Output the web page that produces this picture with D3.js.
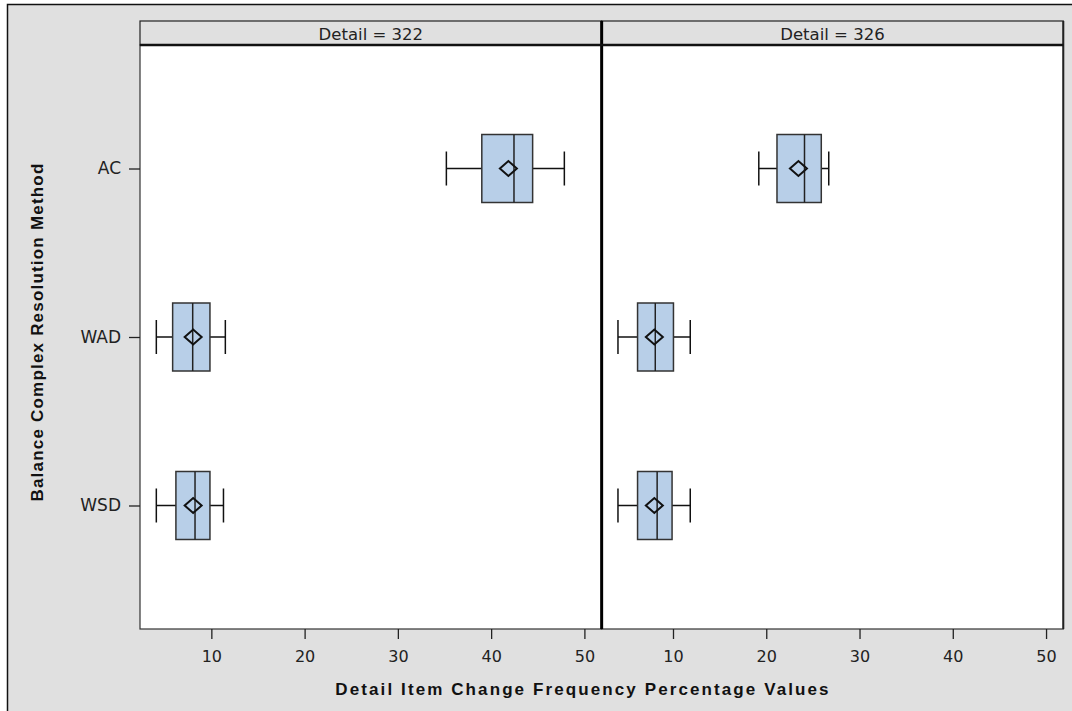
<!DOCTYPE html>
<html>
<head>
<meta charset="utf-8">
<script src="https://cdn.jsdelivr.net/npm/d3@7"></script>
<style>
  body { margin: 0; background: #fff; }
  text { font-family: 'DejaVu Sans', sans-serif; fill: #222; }
</style>
</head>
<body>
<div id="chart"></div>
<script>
// categories and panels
var categories = ['AC', 'WAD', 'WSD'];
var panels = ['322', '326'];
var xTicks = [10, 20, 30, 40, 50];

// box statistics per panel, in the order of categories
var low322 = [35.2, 4.1, 4.1];
var q1_322 = [39.0, 5.85, 6.2];
var median322 = [42.45, 8.0, 8.25];
var q3_322 = [44.45, 9.85, 9.85];
var high322 = [47.85, 11.5, 11.3];
var mean322 = [41.85, 8.05, 8.05];

var low326 = [19.2, 4.1, 4.1];
var q1_326 = [21.15, 6.2, 6.2];
var median326 = [24.1, 8.1, 8.3];
var q3_326 = [25.9, 10.05, 9.9];
var high326 = [26.7, 11.85, 11.85];
var mean326 = [23.45, 8.0, 8.0];

var stats = {
  '322': {low: low322, q1: q1_322, med: median322, q3: q3_322, high: high322, mean: mean322},
  '326': {low: low326, q1: q1_326, med: median326, q3: q3_326, high: high326, mean: mean326}
};

var width = 1072, height = 711;
var plotLeft = 140, plotRight = 1063.3, stripTop = 21, plotTop = 45, plotBottom = 629;
var panelW = (plotRight - plotLeft) / panels.length;

var svg = d3.select('#chart')
  .append('svg')
    .attr('width', width)
    .attr('height', height);

// outer grey frame
svg.append('rect')
  .attr('x', 7.5).attr('y', 4.5)
  .attr('width', width).attr('height', height)
  .attr('fill', '#e0e0e0')
  .attr('stroke', '#111').attr('stroke-width', 1.5);

var y = d3.scalePoint()
  .domain(categories)
  .range([plotTop, plotBottom])
  .padding(0.733);

panels.forEach(function(p, pi) {
  var x0 = plotLeft + pi * panelW;
  var x = d3.scaleLinear().domain([2.35, 51.85]).range([x0, x0 + panelW]);
  var s = stats[p];

  // header strip
  svg.append('rect')
    .attr('x', x0).attr('y', stripTop)
    .attr('width', panelW).attr('height', plotTop - stripTop)
    .attr('fill', '#e0e0e0')
    .attr('stroke', '#222').attr('stroke-width', 1.2);
  svg.append('text')
    .attr('x', x0 + panelW / 2).attr('y', 40)
    .attr('text-anchor', 'middle')
    .style('font-size', '16.5px')
    .text('Detail = ' + p);

  // plot area
  svg.append('rect')
    .attr('x', x0).attr('y', plotTop)
    .attr('width', panelW).attr('height', plotBottom - plotTop)
    .attr('fill', '#fff')
    .attr('stroke', '#333').attr('stroke-width', 1.2);

  // x axis
  var xa = svg.append('g')
    .attr('transform', 'translate(0,' + plotBottom + ')')
    .call(d3.axisBottom(x).tickValues(xTicks).tickSize(10).tickPadding(12).tickSizeOuter(0));
  xa.select('.domain').remove();
  xa.selectAll('line').attr('stroke', '#222').attr('stroke-width', 1.3);
  xa.selectAll('text').style('font-size', '16px').attr('fill', '#222')
    .style('font-family', "'DejaVu Sans', sans-serif");

  // boxes
  var g = svg.append('g');
  var idx = d3.range(categories.length);
  var bh = 34, ch = 17;

  g.selectAll('.whisker').data(idx).enter().append('line')
    .attr('x1', function(i) { return x(s.low[i]); })
    .attr('x2', function(i) { return x(s.high[i]); })
    .attr('y1', function(i) { return y(categories[i]); })
    .attr('y2', function(i) { return y(categories[i]); })
    .attr('stroke', '#111').attr('stroke-width', 1.5);

  ['low', 'high'].forEach(function(k) {
    g.selectAll('.cap' + k).data(idx).enter().append('line')
      .attr('x1', function(i) { return x(s[k][i]); })
      .attr('x2', function(i) { return x(s[k][i]); })
      .attr('y1', function(i) { return y(categories[i]) - ch; })
      .attr('y2', function(i) { return y(categories[i]) + ch; })
      .attr('stroke', '#111').attr('stroke-width', 1.5);
  });

  g.selectAll('.box').data(idx).enter().append('rect')
    .attr('x', function(i) { return x(s.q1[i]); })
    .attr('width', function(i) { return x(s.q3[i]) - x(s.q1[i]); })
    .attr('y', function(i) { return y(categories[i]) - bh; })
    .attr('height', bh * 2)
    .attr('fill', '#b8cfe8')
    .attr('stroke', '#333').attr('stroke-width', 1.5);

  g.selectAll('.median').data(idx).enter().append('line')
    .attr('x1', function(i) { return x(s.med[i]); })
    .attr('x2', function(i) { return x(s.med[i]); })
    .attr('y1', function(i) { return y(categories[i]) - bh; })
    .attr('y2', function(i) { return y(categories[i]) + bh; })
    .attr('stroke', '#222').attr('stroke-width', 1.5);

  // mean diamond
  g.selectAll('.mean').data(idx).enter().append('path')
    .attr('d', function(i) {
      var cx = x(s.mean[i]), cy = y(categories[i]);
      return 'M' + (cx - 8.5) + ',' + cy + 'L' + cx + ',' + (cy - 7.5) +
             'L' + (cx + 8.5) + ',' + cy + 'L' + cx + ',' + (cy + 7.5) + 'Z';
    })
    .attr('fill', 'none')
    .attr('stroke', '#111').attr('stroke-width', 2);
});

// separator and right edge
svg.append('line')
  .attr('x1', plotLeft + panelW).attr('x2', plotLeft + panelW)
  .attr('y1', stripTop).attr('y2', plotBottom)
  .attr('stroke', '#000').attr('stroke-width', 3);
svg.append('line')
  .attr('x1', plotRight).attr('x2', plotRight)
  .attr('y1', stripTop).attr('y2', plotBottom)
  .attr('stroke', '#222').attr('stroke-width', 2);
svg.append('line')
  .attr('x1', plotLeft).attr('x2', plotRight)
  .attr('y1', plotTop).attr('y2', plotTop)
  .attr('stroke', '#111').attr('stroke-width', 2.5);

// y axis
var ya = svg.append('g')
  .attr('transform', 'translate(' + plotLeft + ',0)')
  .call(d3.axisLeft(y).tickSize(11).tickPadding(8));
ya.select('.domain').remove();
ya.selectAll('line').attr('stroke', '#222').attr('stroke-width', 1.3);
ya.selectAll('text').style('font-size', '17px').attr('fill', '#222')
  .style('font-family', "'DejaVu Sans', sans-serif");

// axis titles
svg.append('text')
  .attr('x', 583).attr('y', 695)
  .attr('text-anchor', 'middle')
  .style('font-family', "'Liberation Sans', Arial, sans-serif")
  .style('font-weight', 'bold')
  .style('font-size', '17px')
  .style('letter-spacing', '2.1px')
  .style('fill', '#111')
  .text('Detail Item Change Frequency Percentage Values');

svg.append('text')
  .attr('transform', 'translate(43,332) rotate(-90)')
  .attr('text-anchor', 'middle')
  .style('font-family', "'Liberation Sans', Arial, sans-serif")
  .style('font-weight', 'bold')
  .style('font-size', '17px')
  .style('letter-spacing', '1.2px')
  .style('fill', '#111')
  .text('Balance Complex Resolution Method');
</script>
</body>
</html>
